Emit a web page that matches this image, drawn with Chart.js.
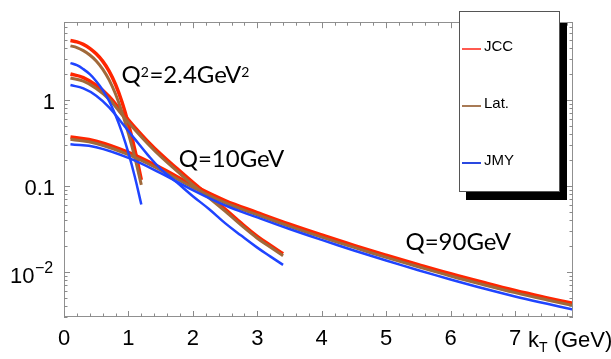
<!DOCTYPE html>
<html><head><meta charset="utf-8">
<style>html,body{margin:0;padding:0;background:#fff}#wrap{width:611px;height:359px;position:relative}</style>
<script src="https://cdn.jsdelivr.net/npm/chart.js@4/dist/chart.umd.min.js"></script>
</head><body><div id="wrap"><canvas id="c"></canvas></div>
<script>
// ---- data ----
const seriesNames = ['JCC', 'Lat.', 'JMY'];
// Q^2 = 2.4 GeV^2
const kT_A = [0.1,0.2,0.3,0.4,0.5,0.6,0.7,0.8,0.9,1.0,1.1,1.2];
const jccA = [4.9,4.73,4.42,3.98,3.43,2.82,2.16,1.51,0.944,0.525,0.263,0.118];
const latA = [4.25,4.06,3.74,3.33,2.84,2.28,1.71,1.17,0.72,0.405,0.213,0.103];
const jmyA = [2.68,2.53,2.28,1.99,1.65,1.31,0.97,0.665,0.42,0.242,0.127,0.061];
// Q = 10 GeV
const kT_B = [0.1,0.3,0.5,0.7,0.9,1.1,1.3,1.5,1.75,2.0,2.25,2.5,2.75,3.0,3.2,3.4];
const jccB = [2.0,1.82,1.48,1.1,0.72,0.48,0.33,0.235,0.16,0.11,0.077,0.054,0.037,0.026,0.0205,0.0163];
const latB = [1.8,1.65,1.36,1.02,0.67,0.45,0.31,0.22,0.15,0.103,0.073,0.051,0.035,0.0247,0.0195,0.0155];
const jmyB = [1.49,1.36,1.12,0.82,0.54,0.35,0.23,0.158,0.11,0.076,0.054,0.037,0.0265,0.0192,0.0152,0.0121];
// Q = 90 GeV
const kT_C = [0.1,0.5,1.0,1.5,2.0,2.5,3.0,3.5,4.0,4.5,5.0,5.5,6.0,6.5,7.0,7.5,7.9];
const jccC = [0.37,0.331,0.245,0.162,0.102,0.0676,0.049,0.0359,0.0269,0.0204,0.0157,0.0122,0.00955,0.00759,0.0061,0.00501,0.00432];
const latC = [0.349,0.312,0.231,0.153,0.0963,0.0638,0.0462,0.0339,0.0254,0.0193,0.0148,0.0115,0.0090,0.00716,0.00576,0.00473,0.00408];
const jmyC = [0.305,0.282,0.212,0.141,0.0893,0.0594,0.0431,0.0316,0.0236,0.0178,0.0136,0.0105,0.0082,0.00648,0.0052,0.00427,0.00367];
const xTicks = [0,1,2,3,4,5,6,7];
const yTicks = [0.01,0.1,1];
// curve labels: [text, superscript] pieces
const curveLabels = [
  {parts:[['Q',0],['2',1],['=2.4GeV',0],['2',1]], x:0.894, y:1.56},
  {parts:[['Q=10GeV',0]], x:1.78, y:0.168},
  {parts:[['Q=90GeV',0]], x:5.30, y:0.0181}
];

// ---- styles ----
const colors = ['#ff2600', '#a0693a', '#1f44ff'];
const legendColors = ['#ff5a50', '#a87a55', '#2a48e0'];
const widths = [3.5, 3, 2.5];
const orders = [3, 2, 1];

function mk(xs, ys, k){
  return {
    label: seriesNames[k],
    data: xs.map((x,i)=>({x:x, y:ys[i]})),
    borderColor: colors[k], borderWidth: widths[k], order: orders[k],
    pointRadius: 0, fill: false, tension: 0.4
  };
}
const datasets = [
  mk(kT_A, jccA, 0), mk(kT_A, latA, 1), mk(kT_A, jmyA, 2),
  mk(kT_B, jccB, 0), mk(kT_B, latB, 1), mk(kT_B, jmyB, 2),
  mk(kT_C, jccC, 0), mk(kT_C, latC, 1), mk(kT_C, jmyC, 2)
];

const decor = {
  id: 'decor',
  afterDatasetsDraw(chart){
    const {ctx, chartArea:a, scales:{x, y}} = chart;
    ctx.save();
    // frame
    ctx.strokeStyle = '#909090'; ctx.lineWidth = 1;
    ctx.strokeRect(Math.round(a.left)+0.5, Math.round(a.top)+0.5, Math.round(a.right-a.left)-1, Math.round(a.bottom-a.top)-1);
    // inward ticks
    ctx.strokeStyle = '#8a8a8a';
    ctx.beginPath();
    for (let i = 0; i <= 39; i++){
      const v = i*0.2; if (v > x.max) break;
      const px = Math.round(x.getPixelForValue(v)) + 0.5;
      const L = (i % 5 === 0) ? 6 : 3.5;
      ctx.moveTo(px, a.bottom); ctx.lineTo(px, a.bottom - L);
      ctx.moveTo(px, a.top); ctx.lineTo(px, a.top + L);
    }
    for (let d = -3; d <= 0; d++){
      for (let m = 1; m <= 9; m++){
        const v = m*Math.pow(10, d);
        if (v < y.min || v > y.max) continue;
        const py = Math.round(y.getPixelForValue(v)) + 0.5;
        const L = (m === 1) ? 6 : 3.5;
        ctx.moveTo(a.left, py); ctx.lineTo(a.left + L, py);
        ctx.moveTo(a.right, py); ctx.lineTo(a.right - L, py);
      }
    }
    ctx.stroke();
    // curve labels
    ctx.fillStyle = '#000';
    ctx.textBaseline = 'alphabetic'; ctx.textAlign = 'left';
    curveLabels.forEach(l => {
      let px = x.getPixelForValue(l.x);
      const py = y.getPixelForValue(l.y);
      l.parts.forEach(([t, sup]) => {
        ctx.font = sup ? '14px Lato' : '24px Lato';
        ctx.fillText(t, px, sup ? py - 6 : py);
        px += ctx.measureText(t).width + (sup ? 0.5 : 0);
      });
    });
    // 10^-2 tick label
    const p2 = y.getPixelForValue(0.01);
    ctx.font = '22px "Liberation Sans"';
    ctx.fillText('10', 10, p2 + 10.5);
    ctx.font = '16px "Liberation Sans"';
    ctx.fillText('\u22122', 35, p2 + 1);
    // axis title
    const ax = x.getPixelForValue(7) + 13;
    const base = a.bottom + 30;
    ctx.font = '22px "Liberation Sans"';
    ctx.fillText('k', ax, base);
    const kw = ctx.measureText('k').width;
    ctx.font = '14px "Liberation Sans"';
    ctx.fillText('T', ax + kw, base + 5);
    const tw = ctx.measureText('T').width;
    ctx.font = '22px "Liberation Sans"';
    ctx.fillText(' (GeV)', ax + kw + tw, base);
    // legend
    ctx.fillStyle = '#000';
    ctx.fillRect(466, 23, 101, 177);
    ctx.fillStyle = '#fff';
    ctx.fillRect(459, 11, 101, 181);
    ctx.strokeStyle = '#555'; ctx.lineWidth = 1;
    ctx.strokeRect(459.5, 11.5, 100, 180);
    const ly = [49, 106, 163];
    ctx.font = '15px "Liberation Sans"';
    seriesNames.forEach((n, k) => {
      ctx.strokeStyle = legendColors[k]; ctx.lineWidth = 2;
      ctx.beginPath(); ctx.moveTo(462, ly[k]); ctx.lineTo(481, ly[k]); ctx.stroke();
      ctx.fillStyle = '#000';
      ctx.fillText(n, 484, ly[k] + 1.5);
    });
    ctx.restore();
  }
};

new Chart(document.getElementById('c'), {
  type: 'line',
  data: { datasets: datasets },
  options: {
    responsive: true, maintainAspectRatio: false, animation: false, devicePixelRatio: 1,
    layout: { padding: { left: 0, right: 38, top: 3, bottom: 0 } },
    plugins: { legend: { display: false }, tooltip: { enabled: false } },
    scales: {
      x: {
        type: 'linear', min: 0, max: 7.9,
        grid: { display: false, drawTicks: false }, border: { display: false },
        afterBuildTicks: s => { s.ticks = xTicks.map(v => ({value: v})); },
        afterFit: s => { s.height = 42; },
        ticks: { padding: 9, color: '#000', font: { family: 'Liberation Sans', size: 22 }, maxRotation: 0, autoSkip: false,
          callback: v => String(v) }
      },
      y: {
        type: 'logarithmic', min: 0.003, max: 8,
        grid: { display: false, drawTicks: false }, border: { display: false },
        afterBuildTicks: s => { s.ticks = yTicks.map(v => ({value: v})); },
        afterFit: s => { s.width = 64; },
        ticks: { padding: 9, labelOffset: 3, color: '#000', font: { family: 'Liberation Sans', size: 22 }, autoSkip: false,
          callback: v => (v === 1 ? '1' : v === 0.1 ? '0.1' : '') }
      }
    }
  },
  plugins: [decor]
});
</script>
</body></html>
